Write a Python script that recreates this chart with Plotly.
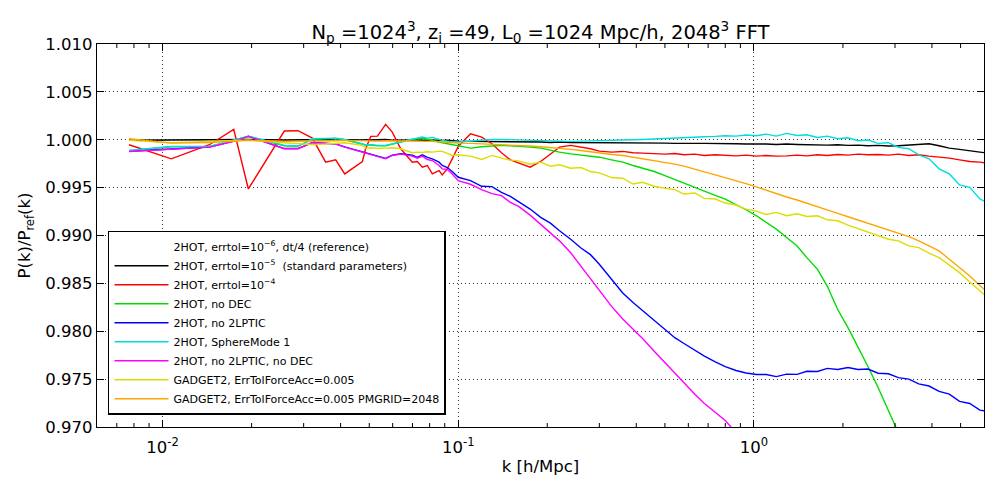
import math
import plotly.graph_objects as go

# ---------------- data ----------------
K_LOW = [0.0077, 0.0107, 0.0144, 0.0174, 0.0195, 0.0258, 0.0287, 0.0321, 0.0356, 0.0385,
         0.0413, 0.0474, 0.0486, 0.0506, 0.0533, 0.0568, 0.0598, 0.0639, 0.0699, 0.0727,
         0.0756, 0.0786, 0.0817, 0.0861, 0.0883, 0.0918, 0.0954]
K_HIGH = [0.10, 0.11, 0.12, 0.13, 0.14, 0.15, 0.16, 0.175, 0.19, 0.205,
          0.22, 0.24, 0.26, 0.28, 0.30, 0.33, 0.36, 0.39, 0.42, 0.46,
          0.50, 0.54, 0.58, 0.63, 0.68, 0.74, 0.80, 0.87, 0.94, 1.02,
          1.10, 1.19, 1.29, 1.40, 1.51, 1.64, 1.77, 1.92, 2.08, 2.25,
          2.43, 2.63, 2.85, 3.08, 3.34, 3.61, 3.91, 4.23, 4.58, 4.96,
          5.37, 5.81, 6.28]
K = K_LOW + K_HIGH

black_low = [0.99995, 0.99998, 1.00002, 0.99999, 1.00003, 0.99997, 1.00001, 0.99998, 1.00002, 0.99996,
             1.00000, 0.99998, 1.00001, 0.99997, 0.99999, 1.00002, 0.99996, 0.99998, 1.00001, 0.99997,
             0.99995, 0.99998, 0.99994, 0.99996, 0.99992, 0.99994, 0.99990]
black_high = [0.99986, 0.99983, 0.99983, 0.99979, 0.99979, 0.99976, 0.99979, 0.99976, 0.99976, 0.99972,
              0.99976, 0.99972, 0.99972, 0.99969, 0.99972, 0.99969, 0.99969, 0.99965, 0.99969, 0.99965,
              0.99965, 0.99962, 0.99965, 0.99962, 0.99962, 0.99958, 0.99962, 0.99958, 0.99955, 0.99958,
              0.99955, 0.99951, 0.99955, 0.99951, 0.99948, 0.99951, 0.99944, 0.99948, 0.99941, 0.99944,
              0.99937, 0.99941, 0.99934, 0.99937, 0.99944, 0.99951, 0.99958, 0.99937, 0.99913, 0.99899,
              0.99881, 0.99871, 0.99857]

red_low = [0.99948, 0.99801, 0.99948, 1.00108, 0.99486, 1.00091, 1.00094, 1.00017, 0.99766, 0.99790,
           0.99643, 0.99773, 0.99906, 1.00035, 1.00038, 1.00161, 1.00080, 0.99906, 0.99766, 0.99773,
           0.99713, 0.99731, 0.99643, 0.99678, 0.99633, 0.99696, 0.99800]
red_high = [0.99930, 1.00063, 1.00028, 0.99958, 0.99864, 0.99790, 0.99759, 0.99713, 0.99773, 0.99853,
            0.99923, 0.99941, 0.99923, 0.99906, 0.99881, 0.99871, 0.99878, 0.99864, 0.99860, 0.99853,
            0.99850, 0.99857, 0.99843, 0.99850, 0.99836, 0.99843, 0.99836, 0.99832, 0.99839, 0.99829,
            0.99836, 0.99829, 0.99832, 0.99839, 0.99832, 0.99843, 0.99836, 0.99846, 0.99839, 0.99850,
            0.99843, 0.99846, 0.99839, 0.99850, 0.99836, 0.99843, 0.99829, 0.99822, 0.99808, 0.99790,
            0.99773, 0.99766, 0.99752]

green_low = [0.99885, 0.99927, 0.99928, 0.99990, 1.00034, 0.99938, 0.99931, 1.00006, 1.00013, 1.00014,
             1.00000, 0.99955, 0.99945, 0.99945, 0.99938, 0.99938, 0.99955, 0.99972, 1.00005, 1.00010,
             1.00015, 1.00005, 0.99990, 0.99976, 0.99969, 0.99958, 0.99951]
green_high = [0.99941, 0.99913, 0.99927, 0.99937, 0.99941, 0.99937, 0.99934, 0.99923, 0.99913, 0.99888,
              0.99871, 0.99853, 0.99843, 0.99832, 0.99818, 0.99790, 0.99766, 0.99731, 0.99703, 0.99668,
              0.99626, 0.99584, 0.99549, 0.99507, 0.99465, 0.99419, 0.99381, 0.99325, 0.99269, 0.99206,
              0.99136, 0.99066, 0.98979, 0.98891, 0.98769, 0.98647, 0.98472, 0.98227, 0.98038, 0.97836,
              0.97632, 0.97412, 0.97168, 0.96940, None, None, None, None, None, None,
              None, None, None]

blue_low = [0.99880, 0.99901, 0.99925, 0.99985, 1.00037, 0.99908, 0.99908, 0.99971, 0.99967, 0.99957,
            0.99925, 0.99873, 0.99862, 0.99846, 0.99826, 0.99806, 0.99840, 0.99853, 0.99840, 0.99815,
            0.99843, 0.99815, 0.99801, 0.99766, 0.99731, 0.99710, 0.99668]
blue_high = [0.99608, 0.99573, 0.99514, 0.99510, 0.99451, 0.99409, 0.99353, 0.99276, 0.99189, 0.99129,
             0.99049, 0.98961, 0.98870, 0.98800, 0.98700, 0.98540, 0.98400, 0.98300, 0.98216, 0.98115,
             0.98012, 0.97933, 0.97872, 0.97800, 0.97741, 0.97681, 0.97630, 0.97590, 0.97564, 0.97548,
             0.97548, 0.97526, 0.97552, 0.97550, 0.97582, 0.97580, 0.97612, 0.97600, 0.97622, 0.97600,
             0.97606, 0.97562, 0.97556, 0.97515, 0.97500, 0.97450, 0.97428, 0.97372, 0.97344, 0.97268,
             0.97246, 0.97176, 0.97160]

cyan_low = [0.99888, 0.99930, 0.99930, 0.99993, 1.00038, 0.99941, 0.99934, 1.00010, 1.00017, 1.00017,
            1.00003, 0.99958, 0.99948, 0.99948, 0.99941, 0.99941, 0.99958, 0.99976, 1.00010, 1.00017,
            1.00028, 1.00017, 1.00024, 1.00003, 0.99993, 0.99986, 0.99976]
cyan_high = [0.99976, 0.99986, 1.00000, 1.00003, 1.00003, 1.00000, 1.00003, 0.99997, 0.99993, 0.99990,
             0.99986, 0.99983, 0.99986, 0.99990, 0.99993, 0.99993, 0.99997, 1.00000, 1.00003, 1.00007,
             1.00010, 1.00014, 1.00017, 1.00024, 1.00031, 1.00035, 1.00042, 1.00038, 1.00049, 1.00042,
             1.00059, 1.00038, 1.00066, 1.00045, 1.00052, 1.00024, 1.00038, 1.00010, 1.00021, 0.99990,
             0.99997, 0.99962, 0.99969, 0.99920, 0.99906, 0.99843, 0.99801, 0.99696, 0.99643, 0.99528,
             0.99503, 0.99381, 0.99329]

magenta_low = [0.99878, 0.99899, 0.99923, 0.99983, 1.00035, 0.99906, 0.99906, 0.99969, 0.99965, 0.99955,
               0.99923, 0.99871, 0.99860, 0.99843, 0.99822, 0.99801, 0.99836, 0.99850, 0.99829, 0.99808,
               0.99829, 0.99794, 0.99783, 0.99731, 0.99696, 0.99689, 0.99643]
magenta_high = [0.99573, 0.99535, 0.99479, 0.99437, 0.99416, 0.99346, 0.99304, 0.99213, 0.99119, 0.99031,
                0.98944, 0.98820, 0.98680, 0.98550, 0.98420, 0.98260, 0.98128, 0.98026, 0.97924, 0.97792,
                0.97672, 0.97560, 0.97460, 0.97344, 0.97245, 0.97154, 0.97067, 0.96940, None, None,
                None, None, None, None, None, None, None, None, None, None,
                None, None, None, None, None, None, None, None, None, None,
                None, None, None]

yellow_low = [0.99993, 0.99969, 0.99983, 0.99990, 0.99997, 0.99969, 0.99962, 0.99951, 0.99955, 0.99962,
              0.99969, 0.99941, 0.99913, 0.99916, 0.99909, 0.99913, 0.99916, 0.99906, 0.99864, 0.99871,
              0.99867, 0.99874, 0.99871, 0.99881, 0.99878, 0.99857, 0.99836]
yellow_high = [0.99843, 0.99829, 0.99794, 0.99836, 0.99808, 0.99787, 0.99780, 0.99745, 0.99766, 0.99724,
               0.99738, 0.99703, 0.99710, 0.99668, 0.99654, 0.99605, 0.99598, 0.99538, 0.99556, 0.99514,
               0.99493, 0.99479, 0.99433, 0.99444, 0.99388, 0.99381, 0.99339, 0.99318, 0.99276, 0.99255,
               0.99220, 0.99241, 0.99206, 0.99227, 0.99199, 0.99206, 0.99164, 0.99154, 0.99108, 0.99073,
               0.99031, 0.99003, 0.98961, 0.98944, 0.98891, 0.98874, 0.98815, 0.98769, 0.98689, 0.98612,
               0.98514, 0.98419, 0.98332]

orange_low = [1.00010, 0.99965, 0.99972, 0.99983, 0.99993, 0.99983, 0.99983, 0.99983, 0.99986, 0.99990,
              0.99993, 0.99986, 0.99986, 0.99983, 0.99986, 0.99990, 0.99990, 0.99990, 0.99986, 0.99986,
              0.99983, 0.99983, 0.99983, 0.99979, 0.99976, 0.99972, 0.99969]
orange_high = [0.99965, 0.99962, 0.99958, 0.99955, 0.99951, 0.99948, 0.99941, 0.99934, 0.99927, 0.99920,
               0.99913, 0.99899, 0.99888, 0.99874, 0.99864, 0.99846, 0.99836, 0.99818, 0.99804, 0.99787,
               0.99766, 0.99745, 0.99724, 0.99696, 0.99664, 0.99633, 0.99605, 0.99570, 0.99542, 0.99507,
               0.99472, 0.99437, 0.99402, 0.99371, 0.99336, 0.99297, 0.99266, 0.99231, 0.99196, 0.99161,
               0.99126, 0.99091, 0.99056, 0.99028, 0.98989, 0.98944, 0.98891, 0.98839, 0.98752, 0.98664,
               0.98577, 0.98479, 0.98384]

LABELS = [
    "2HOT, errtol=10<sup>−6</sup>, dt/4 (reference)",
    "2HOT, errtol=10<sup>−5</sup>  (standard parameters)",
    "2HOT, errtol=10<sup>−4</sup>",
    "2HOT, no DEC",
    "2HOT, no 2LPTIC",
    "2HOT, SphereMode 1",
    "2HOT, no 2LPTIC, no DEC",
    "GADGET2, ErrTolForceAcc=0.005",
    "GADGET2, ErrTolForceAcc=0.005 PMGRID=2048",
]
SERIES = [
    None,
    black_low + black_high,
    red_low + red_high,
    green_low + green_high,
    blue_low + blue_high,
    cyan_low + cyan_high,
    magenta_low + magenta_high,
    yellow_low + yellow_high,
    orange_low + orange_high,
]
COLORS = ["#ffffff", "#000000", "#ff0000", "#00dd00", "#0000ff", "#00dddd",
          "#ff00ff", "#dddd00", "#ffa500"]
Y_TICKS = [0.970, 0.975, 0.980, 0.985, 0.990, 0.995, 1.000, 1.005, 1.010]
X_TICKS = [0.01, 0.1, 1.0]
X_TICKTEXT = ["10<sup>-2</sup>", "10<sup>-1</sup>", "10<sup>0</sup>"]
X_MIN, X_MAX = 0.006, 6.0

# ---------------- figure ----------------
FONT = "DejaVu Sans"
fig = go.Figure()
for lab, ys, col in zip(LABELS, SERIES, COLORS):
    if ys is None:
        fig.add_trace(go.Scatter(x=[None], y=[None], mode="lines", name=lab,
                                 line=dict(color=col, width=1.5)))
    else:
        fig.add_trace(go.Scatter(x=K, y=ys, mode="lines", name=lab,
                                 line=dict(color=col, width=1.4)))

# minor log ticks (2..9 of each decade), drawn inside at bottom and top as short shapes
plot_h = 500 - 44 - 73
minor_len = 4.0 / plot_h
for d in [0.001, 0.01, 0.1, 1.0]:
    for m in range(2, 10):
        v = d * m
        if X_MIN < v < X_MAX:
            for y0, y1 in [(0, minor_len), (1 - minor_len, 1)]:
                fig.add_shape(type="line", xref="x", yref="paper", x0=v, x1=v, y0=y0, y1=y1,
                              line=dict(color="black", width=1), layer="above")

grid_dash = "1px,3px"
fig.update_layout(
    width=1000, height=500,
    margin=dict(l=97, r=16, t=44, b=73),
    paper_bgcolor="white", plot_bgcolor="white",
    font=dict(family=FONT, color="black", size=16),
    title=dict(text="N<sub>p</sub> =1024<sup>3</sup>, z<sub>i</sub> =49, L<sub>0</sub> =1024 Mpc/h, 2048<sup>3</sup> FFT",
               x=0.5405, xanchor="center", y=0.936, yanchor="middle",
               font=dict(family=FONT, size=19.5)),
    showlegend=True,
    legend=dict(x=0.0124, y=0.5125, xanchor="left", yanchor="top",
                bgcolor="white", bordercolor="black", borderwidth=1.5,
                font=dict(family=FONT, size=11), tracegroupgap=0,
                itemwidth=54),
    xaxis=dict(type="log", range=[math.log10(X_MIN), math.log10(X_MAX)],
               tickmode="array", tickvals=X_TICKS, ticktext=X_TICKTEXT,
               ticks="inside", ticklen=7, tickwidth=1, tickcolor="black",
               showline=True, linecolor="black", linewidth=1.2, mirror="ticks",
               showgrid=True, gridcolor="#333333", gridwidth=1, griddash=grid_dash,
               zeroline=False, tickfont=dict(size=16.5), ticklabelstandoff=5,
               title=dict(text="k [h/Mpc]", standoff=4, font=dict(size=16.5))),
    yaxis=dict(range=[0.970, 1.010], tickmode="array", tickvals=Y_TICKS,
               tickformat=".3f",
               ticks="inside", ticklen=7, tickwidth=1, tickcolor="black",
               showline=True, linecolor="black", linewidth=1.2, mirror="ticks",
               showgrid=True, gridcolor="#333333", gridwidth=1, griddash=grid_dash,
               zeroline=False, tickfont=dict(size=16.5),
               title=dict(text="P(k)/P<sub>ref</sub>(k)", standoff=10, font=dict(size=16.5))),
)

fig.write_html("out.html", post_script="document.body.style.margin='0';",
               config={"displayModeBar": False})
